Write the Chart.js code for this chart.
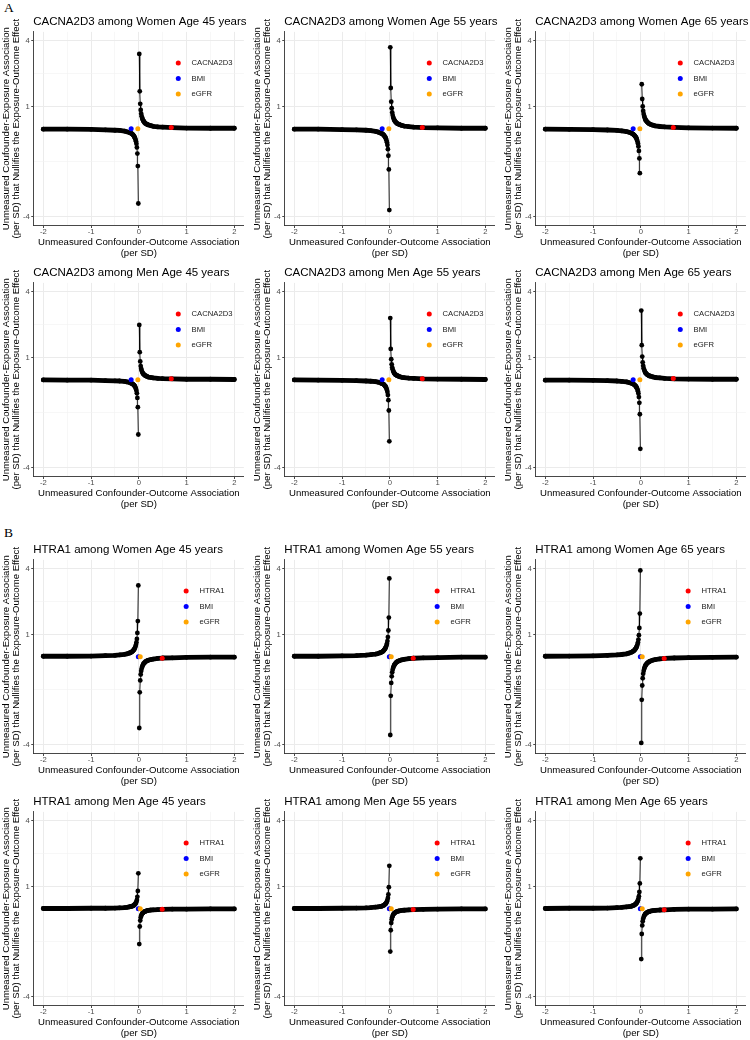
<!DOCTYPE html>
<html><head><meta charset="utf-8">
<script src="https://cdn.jsdelivr.net/npm/chart.js@4.4.0/dist/chart.umd.min.js"></script>
<style>
html,body{margin:0;padding:0;background:#fff;}
body{width:750px;height:1040px;position:relative;overflow:hidden;}
.tag{position:absolute;font-family:"Liberation Serif","Times New Roman",serif;font-size:13.5px;color:#000;line-height:1;}
canvas{position:absolute;}
</style></head><body>
<div class="tag" style="left:4px;top:1px">A</div>
<div class="tag" style="left:4px;top:526px">B</div>
<script>
// ---------- data ----------
const xRight = [0.01,0.02,0.03,0.04,0.05,0.06,0.07,0.08,0.09,0.1,0.12,0.14,0.16,0.18,0.2,0.25,0.3,0.4,0.5,0.7,1,1.5,2];
const xLeft  = [-0.01,-0.02,-0.03,-0.04,-0.05,-0.06,-0.07,-0.08,-0.09,-0.1,-0.12,-0.14,-0.16,-0.18,-0.2,-0.25,-0.3,-0.4,-0.5,-0.7,-1,-1.5,-2];

const xMajorTicks = [-2,-1,0,1,2];
const xMinorTicks = [-1.5,-0.5,0.5,1.5];
const yMajorTicks = [-4,1,4];
const yMinorTicks = [-1.5,2.5];

const panelTitles = [
  'CACNA2D3 among Women Age 45 years','CACNA2D3 among Women Age 55 years','CACNA2D3 among Women Age 65 years',
  'CACNA2D3 among Men Age 45 years','CACNA2D3 among Men Age 55 years','CACNA2D3 among Men Age 65 years',
  'HTRA1 among Women Age 45 years','HTRA1 among Women Age 55 years','HTRA1 among Women Age 65 years',
  'HTRA1 among Men Age 45 years','HTRA1 among Men Age 55 years','HTRA1 among Men Age 65 years'];
const geneNames = ['CACNA2D3','CACNA2D3','CACNA2D3','CACNA2D3','CACNA2D3','CACNA2D3','HTRA1','HTRA1','HTRA1','HTRA1','HTRA1','HTRA1'];

// curve values (right branch: x>0, left branch: x<0)
const cW45R = [3.40,1.70,1.13,0.85,0.68,0.57,0.49,0.43,0.38,0.34,0.28,0.24,0.21,0.19,0.17,0.14,0.11,0.08,0.07,0.05,0.03,0.02,0.02];
const cW45L = [-3.40,-1.70,-1.13,-0.85,-0.68,-0.57,-0.49,-0.43,-0.38,-0.34,-0.28,-0.24,-0.21,-0.19,-0.17,-0.14,-0.11,-0.08,-0.07,-0.05,-0.03,-0.02,-0.02];
const cW55R = [3.70,1.85,1.23,0.93,0.74,0.62,0.53,0.46,0.41,0.37,0.31,0.26,0.23,0.21,0.19,0.15,0.12,0.09,0.07,0.05,0.04,0.02,0.02];
const cW55L = [-3.70,-1.85,-1.23,-0.93,-0.74,-0.62,-0.53,-0.46,-0.41,-0.37,-0.31,-0.26,-0.23,-0.21,-0.19,-0.15,-0.12,-0.09,-0.07,-0.05,-0.04,-0.02,-0.02];
const cW65R = [null,2.02,1.35,1.01,0.81,0.67,0.58,0.51,0.45,0.40,0.34,0.29,0.25,0.22,0.20,0.16,0.13,0.10,0.08,0.06,0.04,0.03,0.02];
const cW65L = [null,-2.02,-1.35,-1.01,-0.81,-0.67,-0.58,-0.51,-0.45,-0.40,-0.34,-0.29,-0.25,-0.22,-0.20,-0.16,-0.13,-0.10,-0.08,-0.06,-0.04,-0.03,-0.02];
const cM45R = [2.49,1.25,0.83,0.62,0.50,0.42,0.36,0.31,0.28,0.25,0.21,0.18,0.16,0.14,0.12,0.10,0.08,0.06,0.05,0.04,0.02,0.02,0.01];
const cM45L = [-2.49,-1.25,-0.83,-0.62,-0.50,-0.42,-0.36,-0.31,-0.28,-0.25,-0.21,-0.18,-0.16,-0.14,-0.12,-0.10,-0.08,-0.06,-0.05,-0.04,-0.02,-0.02,-0.01];
const cM55R = [2.80,1.40,0.93,0.70,0.56,0.47,0.40,0.35,0.31,0.28,0.23,0.20,0.18,0.16,0.14,0.11,0.09,0.07,0.06,0.04,0.03,0.02,0.01];
const cM55L = [-2.80,-1.40,-0.93,-0.70,-0.56,-0.47,-0.40,-0.35,-0.31,-0.28,-0.23,-0.20,-0.18,-0.16,-0.14,-0.11,-0.09,-0.07,-0.06,-0.04,-0.03,-0.02,-0.01];
const cM65R = [3.14,1.57,1.05,0.79,0.63,0.52,0.45,0.39,0.35,0.31,0.26,0.22,0.20,0.17,0.16,0.13,0.10,0.08,0.06,0.04,0.03,0.02,0.02];
const cM65L = [-3.14,-1.57,-1.05,-0.79,-0.63,-0.52,-0.45,-0.39,-0.35,-0.31,-0.26,-0.22,-0.20,-0.17,-0.16,-0.13,-0.10,-0.08,-0.06,-0.04,-0.03,-0.02,-0.02];
const hW45R = [-3.24,-1.62,-1.08,-0.81,-0.65,-0.54,-0.46,-0.41,-0.36,-0.32,-0.27,-0.23,-0.20,-0.18,-0.16,-0.13,-0.11,-0.08,-0.06,-0.05,-0.03,-0.02,-0.02];
const hW45L = [3.24,1.62,1.08,0.81,0.65,0.54,0.46,0.41,0.36,0.32,0.27,0.23,0.20,0.18,0.16,0.13,0.11,0.08,0.06,0.05,0.03,0.02,0.02];
const hW55R = [-3.56,-1.78,-1.19,-0.89,-0.71,-0.59,-0.51,-0.45,-0.40,-0.36,-0.30,-0.25,-0.22,-0.20,-0.18,-0.14,-0.12,-0.09,-0.07,-0.05,-0.04,-0.02,-0.02];
const hW55L = [3.56,1.78,1.19,0.89,0.71,0.59,0.51,0.45,0.40,0.36,0.30,0.25,0.22,0.20,0.18,0.14,0.12,0.09,0.07,0.05,0.04,0.02,0.02];
const hW65R = [-3.92,-1.96,-1.31,-0.98,-0.78,-0.65,-0.56,-0.49,-0.44,-0.39,-0.33,-0.28,-0.25,-0.22,-0.20,-0.16,-0.13,-0.10,-0.08,-0.06,-0.04,-0.03,-0.02];
const hW65L = [3.92,1.96,1.31,0.98,0.78,0.65,0.56,0.49,0.44,0.39,0.33,0.28,0.25,0.22,0.20,0.16,0.13,0.10,0.08,0.06,0.04,0.03,0.02];
const hM45R = [-1.61,-0.81,-0.54,-0.40,-0.32,-0.27,-0.23,-0.20,-0.18,-0.16,-0.13,-0.12,-0.10,-0.09,-0.08,-0.06,-0.05,-0.04,-0.03,-0.02,-0.02,-0.01,-0.01];
const hM45L = [1.61,0.81,0.54,0.40,0.32,0.27,0.23,0.20,0.18,0.16,0.13,0.12,0.10,0.09,0.08,0.06,0.05,0.04,0.03,0.02,0.02,0.01,0.01];
const hM55R = [-1.95,-0.98,-0.65,-0.49,-0.39,-0.33,-0.28,-0.24,-0.22,-0.20,-0.16,-0.14,-0.12,-0.11,-0.10,-0.08,-0.07,-0.05,-0.04,-0.03,-0.02,-0.01,-0.01];
const hM55L = [1.95,0.98,0.65,0.49,0.39,0.33,0.28,0.24,0.22,0.20,0.16,0.14,0.12,0.11,0.10,0.08,0.07,0.05,0.04,0.03,0.02,0.01,0.01];
const hM65R = [-2.29,-1.15,-0.76,-0.57,-0.46,-0.38,-0.33,-0.29,-0.25,-0.23,-0.19,-0.16,-0.14,-0.13,-0.11,-0.09,-0.08,-0.06,-0.05,-0.03,-0.02,-0.02,-0.01];
const hM65L = [2.29,1.15,0.76,0.57,0.46,0.38,0.33,0.29,0.25,0.23,0.19,0.16,0.14,0.13,0.11,0.09,0.08,0.06,0.05,0.03,0.02,0.02,0.01];

const rightCurves = [cW45R,cW55R,cW65R,cM45R,cM55R,cM65R,hW45R,hW55R,hW65R,hM45R,hM55R,hM65R];
const leftCurves  = [cW45L,cW55L,cW65L,cM45L,cM55L,cM65L,hW45L,hW55L,hW65L,hM45L,hM55L,hM65L];

// highlighted points
const geneX = [0.68,0.68,0.68,0.68,0.68,0.68,0.49,0.49,0.49,0.49,0.49,0.49];
const geneY = [0.05,0.05,0.06,0.04,0.04,0.05,-0.07,-0.07,-0.08,-0.03,-0.04,-0.05];
const bmiX  = [-0.16,-0.16,-0.16,-0.16,-0.16,-0.16,-0.01,-0.01,-0.01,-0.01,-0.01,-0.01];
const bmiY  = [0,0,0,0,0,0,0,0,0,0,0,0];
const egfrX = [-0.02,-0.02,-0.02,-0.02,-0.02,-0.02,0.03,0.03,0.03,0.03,0.03,0.03];
const egfrY = [0,0,0,0,0,0,0,0,0,0,0,0];

// ---------- drawing ----------
const FONT = '"Liberation Sans", Arial, sans-serif';
Chart.defaults.font.family = FONT;
const rowTops = [0, 251, 528, 780];
const colLefts = [0, 251, 502];
const CW = 250, CH = 260;
const PLOT_L = 33.75, PLOT_R = 243.85, PLOT_T = 31.9, PLOT_B = 225.5;

const pts = (xs, ys) => xs.map((x, i) => ({x: x, y: ys[i]})).filter(d => d.y !== null);

const titlePlugin = {
  id: 'panelTitle',
  afterDraw(chart, args, o) {
    const ctx = chart.ctx;
    ctx.save();
    ctx.font = '11.5px ' + FONT;
    ctx.fillStyle = '#000';
    ctx.textAlign = 'left';
    ctx.textBaseline = 'middle';
    ctx.fillText(o.text, chart.chartArea.left - 0.5, 21.5);
    ctx.restore();
  }
};
const legendPlugin = {
  id: 'insideLegend',
  afterDatasetsDraw(chart) {
    const ctx = chart.ctx, a = chart.chartArea;
    const items = chart.data.datasets.filter(d => d.label).sort((u, v) => u.legendIndex - v.legendIndex);
    ctx.save();
    ctx.font = '7.67px ' + FONT;
    const w = Math.max(...items.map(it => ctx.measureText(it.label).width));
    const dotX = a.left + 171.6 - (13.3 + w) / 2;
    items.forEach((it, i) => {
      const y = a.top + 31.1 + i * 15.5;
      ctx.fillStyle = it.pointBackgroundColor;
      ctx.beginPath(); ctx.arc(dotX, y, 2.5, 0, Math.PI * 2); ctx.fill();
      ctx.fillStyle = '#1a1a1a';
      ctx.textAlign = 'left'; ctx.textBaseline = 'middle';
      ctx.fillText(it.label, dotX + 13.3, y);
    });
    ctx.restore();
  }
};

function axisCommon(major, minor, min, max) {
  const isMajor = v => major.includes(v);
  return {
    type: 'linear', min: min, max: max,
    afterBuildTicks: s => { s.ticks = major.concat(minor).sort((a, b) => a - b).map(v => ({value: v})); },
    ticks: {
      autoSkip: false, maxRotation: 0, minRotation: 0,
      color: '#4D4D4D', font: {size: 7.67, lineHeight: 1},
      callback: v => isMajor(v) ? String(v) : ''
    },
    grid: {
      drawOnChartArea: true, drawTicks: true, tickLength: 2.5,
      color: c => (c.tick && isMajor(c.tick.value)) ? '#EBEBEB' : '#F2F2F2',
      lineWidth: c => (c.tick && isMajor(c.tick.value)) ? 1 : 0.6,
      tickColor: c => (c.tick && isMajor(c.tick.value)) ? '#333333' : 'rgba(0,0,0,0)',
      tickWidth: 0.9
    },
    border: {display: true, color: '#333333', width: 0.9}
  };
}

for (let p = 0; p < 12; p++) {
  const row = Math.floor(p / 3), col = p % 3;
  const cv = document.createElement('canvas');
  cv.width = CW; cv.height = CH;
  cv.style.left = colLefts[col] + 'px';
  cv.style.top = rowTops[row] + 'px';
  cv.style.width = CW + 'px'; cv.style.height = CH + 'px';
  document.body.appendChild(cv);

  const rightPts = pts(xRight, rightCurves[p]);
  const leftPts = pts(xLeft, leftCurves[p]);
  const band = d => Math.abs(d.x) >= 0.1;

  const xAxis = axisCommon(xMajorTicks, xMinorTicks, -2.2, 2.2);
  xAxis.ticks.padding = 0;
  xAxis.title = {display: true, text: ['Unmeasured Confounder-Outcome Association', '(per SD)'],
    color: '#000', font: {size: 9.6, lineHeight: '10.8px'}, padding: {top: 0, bottom: 1.6}};
  xAxis.afterFit = s => { s.height = CH - PLOT_B; };

  const yAxis = axisCommon(yMajorTicks, yMinorTicks, -4.4, 4.4);
  yAxis.ticks.padding = 1.5;
  yAxis.title = {display: true, text: ['Unmeasured Coufounder-Exposure Association', '(per SD) that Nullifies the Exposure-Outcome Effect'],
    color: '#000', font: {size: 9.6, lineHeight: '10.8px'}, padding: {top: 0.6, bottom: 0}};
  yAxis.afterFit = s => { s.width = PLOT_L; };

  const curveBand = data => ({data: data.filter(band), showLine: true, borderColor: '#000', borderWidth: 4.8,
    borderCapStyle: 'round', borderJoinStyle: 'round', pointRadius: 0, pointHoverRadius: 0});
  const curveDots = data => ({data: data, showLine: true, borderColor: '#000', borderWidth: 0.9,
    pointRadius: 2.4, pointHoverRadius: 2.4, pointBackgroundColor: '#000', pointBorderWidth: 0});
  const marker = (label, li, x, y, color) => ({label: label, legendIndex: li, data: [{x: x, y: y}], showLine: false,
    pointRadius: 2.5, pointHoverRadius: 2.5, pointBackgroundColor: color, pointBorderWidth: 0, borderColor: color});

  // Chart.js paints the first dataset on top, so markers come first
  new Chart(cv.getContext('2d'), {
    type: 'scatter',
    data: {datasets: [
      marker(geneNames[p], 0, geneX[p], geneY[p], '#FF0000'),
      marker('eGFR', 2, egfrX[p], egfrY[p], '#FFA500'),
      marker('BMI', 1, bmiX[p], bmiY[p], '#0000FF'),
      curveDots(rightPts), curveDots(leftPts),
      curveBand(rightPts), curveBand(leftPts)
    ]},
    options: {
      responsive: false, animation: false, devicePixelRatio: 1,
      events: [],
      layout: {padding: {left: 0, right: CW - PLOT_R, top: PLOT_T, bottom: 0}},
      plugins: {legend: {display: false}, tooltip: {enabled: false}, title: {display: false},
        panelTitle: {text: panelTitles[p]}},
      scales: {x: xAxis, y: yAxis}
    },
    plugins: [titlePlugin, legendPlugin]
  });
}
</script>
</body></html>
